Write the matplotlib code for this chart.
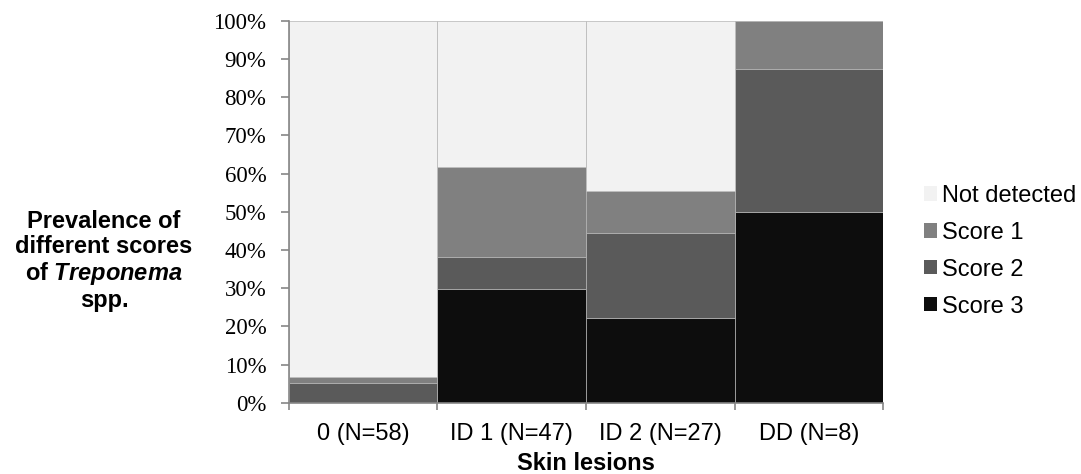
import numpy as np
import matplotlib
matplotlib.use("Agg")
import matplotlib.pyplot as plt

plt.rcParams['mathtext.fontset'] = 'custom'
plt.rcParams['mathtext.it'] = 'Liberation Sans:italic:bold'
plt.rcParams['mathtext.rm'] = 'Liberation Sans:bold'

# Data (percent of samples per lesion group)
categories = ['0 (N=58)', 'ID 1 (N=47)', 'ID 2 (N=27)', 'DD (N=8)']
score3 = [0.0, 29.8, 22.2, 50.0]
score2 = [5.2, 8.5, 22.2, 37.5]
score1 = [1.7, 23.4, 11.1, 12.5]
not_detected = [93.1, 38.3, 44.5, 0.0]

series = [('Score 3', score3, '#0d0d0d'),
          ('Score 2', score2, '#5a5a5a'),
          ('Score 1', score1, '#808080'),
          ('Not detected', not_detected, '#f2f2f2')]

fig = plt.figure(figsize=(10.81, 4.74), dpi=100)
ax = fig.add_axes([0.267, 0.150, 0.550, 0.806])

x = np.arange(len(categories))
bottom = np.zeros(len(categories))
handles = []
for name, vals, col in series:
    b = ax.bar(x, vals, width=1.0, bottom=bottom, color=col, edgecolor='#b4b4b4',
               linewidth=0.5, label=name)
    handles.append(b)
    bottom += np.array(vals)

ax.set_xlim(-0.5, len(categories) - 0.5)
ax.set_ylim(0, 100)
ax.set_yticks(np.arange(0, 101, 10))
ax.set_yticklabels([f'{v}%' for v in range(0, 101, 10)], fontfamily='Liberation Serif', fontsize=16.5)
ax.set_xticks(np.arange(-0.5, len(categories), 1.0), minor=False)
ax.set_xticklabels([])
ax.set_xticks(x, minor=True)
ax.set_xticklabels(categories, minor=True, fontfamily='Liberation Sans', fontsize=17)
ax.tick_params(axis='x', which='minor', length=0, pad=14.5)
ax.tick_params(axis='x', which='major', length=5, color='#868686', width=1.2)
ax.tick_params(axis='y', length=6, color='#868686', width=1.2, pad=10)

for s in ['top', 'right']:
    ax.spines[s].set_visible(False)
for s in ['left', 'bottom']:
    ax.spines[s].set_color('#868686')
    ax.spines[s].set_linewidth(1.2)

ax.set_xlabel('Skin lesions', fontfamily='Liberation Sans', fontweight='bold', fontsize=17, labelpad=5)

fig.text(104 / 1081, 1 - 261 / 474,
         'Prevalence of\ndifferent scores\nof $\\it{Treponema}$\nspp.',
         ha='center', va='center', multialignment='center',
         fontfamily='Liberation Sans', fontweight='bold', fontsize=17, linespacing=1.1)

leg = fig.legend(handles[::-1], [s[0] for s in series][::-1], loc='center left',
                 bbox_to_anchor=(0.835, 0.47), frameon=False,
                 prop={'family': 'Liberation Sans', 'size': 17},
                 handlelength=0.55, handleheight=0.55, handletextpad=0.2, labelspacing=0.63)
for h in leg.legend_handles:
    h.set_edgecolor('none')

fig.savefig('out.png', dpi=100)
